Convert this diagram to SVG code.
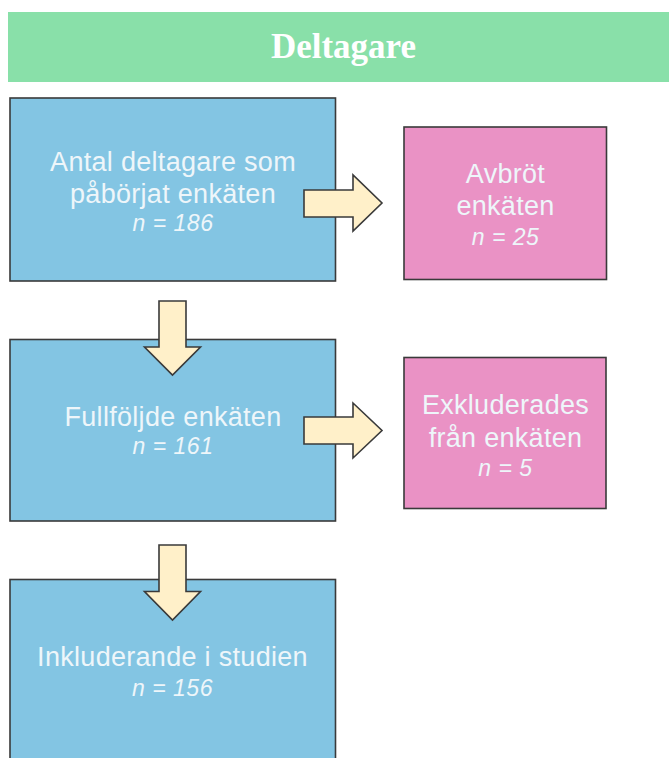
<svg xmlns="http://www.w3.org/2000/svg" width="669" height="758" viewBox="0 0 669 758">
<style>
.bg{fill:#ffffff}
.hdr{fill:#89e0a9}
.blue{fill:#83c5e3;stroke:#3a3a3a;stroke-width:1.6}
.pink{fill:#ea92c5;stroke:#3a3a3a;stroke-width:1.6}
.arr{fill:#fff0c9;stroke:#3a3a3a;stroke-width:1.6;stroke-linejoin:miter}
.t{font-family:"Liberation Sans",Arial,sans-serif;font-size:27px;fill:#eef6fa;text-anchor:middle;letter-spacing:0.3px}
.n{font-family:"Liberation Sans",Arial,sans-serif;font-size:23px;font-style:italic;fill:#eef6fa;text-anchor:middle;letter-spacing:0.5px}
.h{font-family:"Liberation Serif","Times New Roman",serif;font-size:35px;font-weight:bold;fill:#ffffff;text-anchor:middle}
</style>
<rect class="bg" x="0" y="0" width="669" height="758"/>
<g id="header">
<rect class="hdr" x="8" y="12" width="661" height="70"/>
<text class="h" x="343.5" y="58">Deltagare</text>
</g>
<g id="node-started">
<rect class="blue" x="10" y="98" width="325.5" height="183"/>
<text class="t" x="173" y="170.5">Antal deltagare som</text>
<text class="t" x="173" y="202.5">påbörjat enkäten</text>
<text class="n" x="173" y="231">n = 186</text>
</g>
<g id="node-aborted">
<rect class="pink" x="404" y="127" width="202.5" height="152.5"/>
<text class="t" x="505.5" y="183">Avbröt</text>
<text class="t" x="505.5" y="215">enkäten</text>
<text class="n" x="505.5" y="245">n = 25</text>
</g>
<g id="node-completed">
<rect class="blue" x="10" y="339.5" width="325.5" height="181.5"/>
<text class="t" x="173" y="426">Fullföljde enkäten</text>
<text class="n" x="173" y="454">n = 161</text>
</g>
<g id="node-excluded">
<rect class="pink" x="404" y="357.5" width="202" height="151"/>
<text class="t" x="505.5" y="413.5">Exkluderades</text>
<text class="t" x="505.5" y="446.5">från enkäten</text>
<text class="n" x="505.5" y="476">n = 5</text>
</g>
<g id="node-included">
<rect class="blue" x="10" y="579.5" width="325.5" height="195"/>
<text class="t" x="172.5" y="666">Inkluderande i studien</text>
<text class="n" x="172.5" y="695.5">n = 156</text>
</g>
<g id="connectors">
<polygon class="arr" points="304,190 353,190 353,175 382,203 353,231 353,217 304,217"/>
<polygon class="arr" points="304,417 353,417 353,403 382,430.5 353,458 353,444 304,444"/>
<polygon class="arr" points="159,301 186,301 186,347 200.5,347 172.5,375 144.5,347 159,347"/>
<polygon class="arr" points="159,545 186,545 186,591.5 200.5,591.5 172.5,620 144.5,591.5 159,591.5"/>
</g>
</svg>
